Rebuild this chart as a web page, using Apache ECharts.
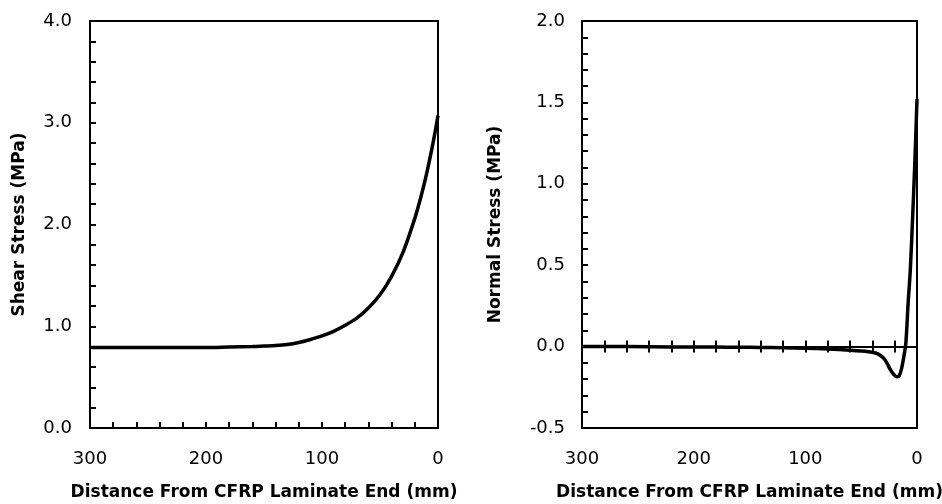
<!DOCTYPE html>
<html>
<head>
<meta charset="utf-8">
<script src="https://cdn.jsdelivr.net/npm/echarts@6/dist/echarts.min.js"></script>
<style>
  html, body { margin: 0; padding: 0; background: #fff; }
  #chart { width: 942px; height: 504px; }
</style>
</head>
<body>
<div id="chart"></div>
<script>
// distance from laminate end (mm) and stresses
const shearDist = [300, 280, 260, 240, 220, 200, 180, 160, 150, 140, 130, 120, 110, 100, 90, 80, 70, 60, 50, 40, 30, 20, 15, 10, 5, 2, 0]
const shearStress = [0.79, 0.79, 0.79, 0.79, 0.79, 0.79, 0.795, 0.80, 0.805, 0.81, 0.82, 0.84, 0.87, 0.905, 0.95, 1.01, 1.08, 1.18, 1.31, 1.49, 1.73, 2.06, 2.26, 2.49, 2.76, 2.94, 3.07]

const normalDist = [300, 260, 220, 180, 160, 140, 120, 100, 80, 60, 50, 40, 35, 30, 27, 24, 21, 18, 16, 14, 12, 10, 8, 6, 4, 2, 0]
const normalStress = [0, 0, -0.002, -0.003, -0.004, -0.005, -0.007, -0.01, -0.015, -0.022, -0.027, -0.035, -0.045, -0.07, -0.10, -0.14, -0.17, -0.185, -0.18, -0.14, -0.07, 0.02, 0.26, 0.47, 0.78, 1.12, 1.52]

const xTitle = "Distance From CFRP Laminate End (mm)"
const shearTitle = "Shear Stress (MPa)"
const normalTitle = "Normal Stress (MPa)"

const chart = echarts.init(document.getElementById("chart"))

const labelFont = { color: "#000", fontFamily: "DejaVu Sans", fontSize: 18 }
const titleFont = { color: "#000", fontFamily: "DejaVu Sans", fontWeight: "bold", fontSize: 17 }
const blackLine = { color: "#000", width: 2 }

const option = {
  animation: false,
  grid: [
    { left: 90, top: 21, width: 348, height: 407, outerBoundsMode: "none", show: true, borderColor: "#000", borderWidth: 2 },
    { left: 582, top: 21, width: 335, height: 407, outerBoundsMode: "none", show: true, borderColor: "#000", borderWidth: 2 }
  ],
  xAxis: [
    {
      gridIndex: 0,
      type: "value",
      min: 0,
      max: 300,
      interval: 20,
      inverse: true,
      position: "bottom",
      axisLine: { onZero: false, lineStyle: blackLine },
      axisTick: { inside: true, length: 6, lineStyle: blackLine },
      axisLabel: {
        ...labelFont,
        margin: 22,
        formatter: (v) => (v % 100 === 0 ? String(v) : "")
      },
      splitLine: { show: false },
      name: xTitle,
      nameLocation: "middle",
      nameGap: 56,
      nameTextStyle: titleFont
    },
    {
      gridIndex: 1,
      type: "value",
      min: 0,
      max: 300,
      interval: 20,
      inverse: true,
      position: "bottom",
      axisLine: { onZero: false, lineStyle: blackLine },
      axisTick: { show: false },
      axisLabel: {
        ...labelFont,
        margin: 22,
        formatter: (v) => (v % 100 === 0 ? String(v) : "")
      },
      splitLine: { show: false },
      name: xTitle,
      nameLocation: "middle",
      nameGap: 56,
      nameTextStyle: titleFont
    },
    {
      // zero line, upper half of the ticks
      gridIndex: 1,
      type: "value",
      min: 0,
      max: 300,
      interval: 20,
      inverse: true,
      position: "bottom",
      axisLine: { onZero: true, onZeroAxisIndex: 1, lineStyle: blackLine },
      axisTick: { inside: true, length: 6, lineStyle: blackLine },
      axisLabel: { show: false },
      splitLine: { show: false }
    },
    {
      // zero line, lower half of the ticks
      gridIndex: 1,
      type: "value",
      min: 0,
      max: 300,
      interval: 20,
      inverse: true,
      position: "bottom",
      axisLine: { onZero: true, onZeroAxisIndex: 1, lineStyle: blackLine },
      axisTick: { inside: false, length: 6, lineStyle: blackLine },
      axisLabel: { show: false },
      splitLine: { show: false }
    }
  ],
  yAxis: [
    {
      gridIndex: 0,
      type: "value",
      min: 0,
      max: 4,
      interval: 0.2,
      axisLine: { show: true, onZero: false, lineStyle: blackLine },
      axisTick: { inside: true, length: 6, lineStyle: blackLine },
      axisLabel: {
        ...labelFont,
        margin: 18,
        formatter: (v) => (Math.abs(v - Math.round(v)) < 1e-6 ? v.toFixed(1) : "")
      },
      splitLine: { show: false },
      name: shearTitle,
      nameLocation: "middle",
      nameGap: 62,
      nameTextStyle: titleFont
    },
    {
      gridIndex: 1,
      type: "value",
      min: -0.5,
      max: 2,
      interval: 0.1,
      axisLine: { show: true, onZero: false, lineStyle: blackLine },
      axisTick: { inside: true, length: 6, lineStyle: blackLine },
      axisLabel: {
        ...labelFont,
        margin: 17,
        formatter: (v) => (Math.round(v * 10) % 5 === 0 ? v.toFixed(1) : "")
      },
      splitLine: { show: false },
      name: normalTitle,
      nameLocation: "middle",
      nameGap: 78,
      nameTextStyle: titleFont
    }
  ],
  series: [
    {
      type: "line",
      xAxisIndex: 0,
      yAxisIndex: 0,
      data: shearDist.map((d, i) => [d, shearStress[i]]),
      smooth: 0.3,
      showSymbol: false,
      lineStyle: { color: "#000", width: 3.5 },
      z: 3
    },
    {
      type: "line",
      xAxisIndex: 1,
      yAxisIndex: 1,
      data: normalDist.map((d, i) => [d, normalStress[i]]),
      smooth: 0.3,
      showSymbol: false,
      lineStyle: { color: "#000", width: 3.5 },
      z: 3
    }
  ]
}

chart.setOption(option)
</script>
</body>
</html>
